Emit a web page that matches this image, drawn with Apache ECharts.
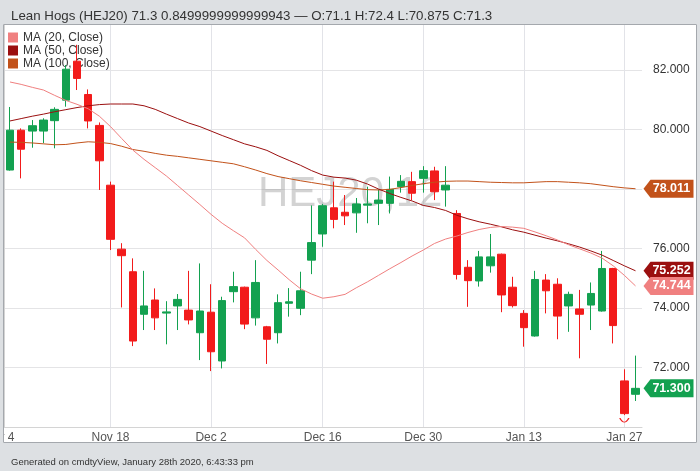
<!DOCTYPE html>
<html><head><meta charset="utf-8">
<script src="https://cdn.jsdelivr.net/npm/echarts@6/dist/echarts.min.js"></script>
<style>html,body{margin:0;padding:0;background:#fff}#c{width:700px;height:471px}</style>
</head><body><div id="c"></div>
<script>
// ---- data ----
const dates = ['Nov 4',
 'Nov 5','Nov 6','Nov 7','Nov 8','Nov 11','Nov 12','Nov 13','Nov 14','Nov 15','Nov 18',
 'Nov 19','Nov 20','Nov 21','Nov 22','Nov 25','Nov 26','Nov 27','Nov 29','Dec 2','Dec 3',
 'Dec 4','Dec 5','Dec 6','Dec 9','Dec 10','Dec 11','Dec 12','Dec 13','Dec 16','Dec 17',
 'Dec 18','Dec 19','Dec 20','Dec 23','Dec 24','Dec 26','Dec 27','Dec 30','Dec 31','Jan 2',
 'Jan 3','Jan 6','Jan 7','Jan 8','Jan 9','Jan 10','Jan 13','Jan 14','Jan 15','Jan 16',
 'Jan 17','Jan 21','Jan 22','Jan 23','Jan 24','Jan 27','Jan 28'];
const opens = [78.64,79.98,79.95,79.95,80.30,80.99,82.30,81.18,80.14,78.13,
 75.98,75.22,73.79,74.27,73.83,74.07,73.93,73.17,73.86,72.22,
 74.55,74.70,73.67,73.37,73.17,74.16,73.99,75.61,76.49,77.37,
 77.22,77.20,77.46,77.52,77.52,78.08,78.25,78.36,78.61,77.97,
 77.18,75.37,74.91,75.42,75.81,74.70,73.82,73.06,74.94,74.80,
 74.07,73.97,74.10,73.90,75.33,71.55,71.10];
const closes = [79.98,79.34,80.13,80.32,80.68,82.03,81.72,80.29,78.95,76.31,
 75.76,72.89,74.07,73.67,73.87,74.29,73.60,73.90,72.53,74.25,
 74.72,73.46,74.86,72.95,74.18,74.21,74.58,76.20,77.44,76.98,
 77.10,77.50,77.50,77.63,77.99,78.26,77.86,78.62,77.91,78.13,
 75.13,74.92,75.72,75.72,74.44,74.08,73.34,74.96,74.58,73.73,
 74.46,73.79,74.49,75.33,73.41,70.45,71.30];
const lows = [78.62,78.36,79.39,79.54,79.37,80.77,81.33,80.04,77.97,75.95,
 74.02,72.72,73.26,73.26,72.78,73.26,73.45,72.25,71.88,71.97,
 74.19,73.29,73.41,72.12,72.81,73.71,73.76,75.14,76.06,76.68,
 76.79,76.53,76.85,76.79,77.18,77.88,77.63,77.88,77.63,77.41,
 74.96,74.04,74.72,75.19,73.86,74.02,72.70,73.04,73.82,72.95,
 73.20,72.31,73.26,73.88,72.81,70.40,70.875];
const highs = [80.76,80.04,80.32,80.38,80.75,82.17,82.85,81.35,80.24,78.25,
 76.18,75.67,75.25,74.66,74.23,74.47,75.25,75.50,74.80,74.38,
 75.22,74.72,75.61,73.40,74.46,74.67,75.22,77.45,77.50,78.25,
 77.80,77.70,78.08,77.99,78.42,78.47,78.58,78.77,78.75,78.77,
 77.29,75.61,75.92,76.49,75.83,75.05,73.93,75.25,75.14,75.00,
 74.55,74.61,74.86,75.92,75.35,71.94,72.40];
const ma20 = [81.60,81.52,81.42,81.33,81.15,80.98,80.85,80.70,80.45,80.10,
 79.70,79.31,79.00,78.72,78.44,78.12,77.80,77.48,77.15,76.85,
 76.60,76.36,75.97,75.60,75.28,74.95,74.65,74.47,74.33,74.38,
 74.46,74.68,74.88,75.10,75.32,75.53,75.75,75.95,76.17,76.32,
 76.42,76.54,76.64,76.71,76.74,76.72,76.68,76.56,76.43,76.29,
 76.13,75.99,75.85,75.68,75.42,75.10,74.744];
const ma50 = [80.29,80.37,80.45,80.52,80.60,80.67,80.74,80.80,80.84,80.86,
 80.86,80.86,80.80,80.68,80.52,80.37,80.22,80.10,79.95,79.80,
 79.66,79.52,79.42,79.30,79.12,78.96,78.80,78.62,78.47,78.40,
 78.37,78.30,78.17,78.00,77.85,77.72,77.60,77.45,77.38,77.28,
 77.12,77.00,76.90,76.82,76.73,76.63,76.55,76.45,76.35,76.26,
 76.16,76.05,75.92,75.78,75.60,75.42,75.252];
const ma100 = [79.58,79.57,79.55,79.52,79.49,79.50,79.55,79.59,79.57,79.53,
 79.44,79.33,79.27,79.20,79.14,79.10,79.05,79.00,78.95,78.90,
 78.85,78.75,78.64,78.52,78.42,78.35,78.28,78.22,78.16,78.10,
 78.06,78.02,77.98,77.97,77.99,78.05,78.12,78.18,78.23,78.26,
 78.27,78.27,78.25,78.23,78.22,78.21,78.21,78.23,78.25,78.25,
 78.23,78.21,78.18,78.13,78.08,78.04,78.011];
const labelDates = ['Nov 4','Nov 18','Dec 2','Dec 16','Dec 30','Jan 13','Jan 27'];
const yMin = 70, yMax = 83.55, yStep = 2;
const expiryDate = 'Jan 27';
const titleText = 'Lean Hogs (HEJ20) 71.3 0.8499999999999943 \u2014 O:71.1 H:72.4 L:70.875 C:71.3';
const footerText = 'Generated on cmdtyView, January 28th 2020, 6:43:33 pm';
const watermark = 'HEJ20,12';

// ---- styling ----
const FONT = '"Liberation Sans", Arial, sans-serif';
const GREEN = '#13a150', RED = '#f21b1b';
const C20 = '#f08080', C50 = '#9b0f0f', C100 = '#c2521a';
const BG = '#dde0e3';
const TAG = 'path://M0,9L7,0L50,0L50,18L7,18Z';
const lastDate = dates[dates.length - 1];

const pad = arr => ['-'].concat(arr);
const candleData = pad(opens.map((o, i) => [o, closes[i], lows[i], highs[i]]));

function tagItem(value, color) {
  return {
    coord: [lastDate, value], value: value,
    symbol: TAG, symbolSize: [50, 18], symbolOffset: [33, 0], symbolKeepAspect: false,
    itemStyle: { color: color },
    label: { show: true, position: 'inside', offset: [3, 0], color: '#fff', fontWeight: 'bold',
      fontSize: 12.5, fontFamily: FONT, formatter: () => value.toFixed(3) }
  };
}
function maSeries(name, data, color) {
  return {
    name: name, type: 'line', xAxisIndex: 1, yAxisIndex: 1, data: pad(data),
    showSymbol: false, symbol: 'none', z: 3, silent: true,
    lineStyle: { width: 1, color: color }, itemStyle: { color: color },
    markPoint: { silent: true, animation: false, data: [tagItem(data[data.length - 1], color)] }
  };
}

const chart = echarts.init(document.getElementById('c'), null, { renderer: 'canvas' });
chart.setOption({
  animation: false,
  backgroundColor: '#fff',
  textStyle: { fontFamily: FONT },
  title: [
    { text: titleText, left: 6, top: 5, z: 100,
      textStyle: { fontSize: 13.3, fontWeight: 'normal', color: '#333', fontFamily: FONT } },
    { text: footerText, left: 6, top: 452, z: 100,
      textStyle: { fontSize: 9.5, fontWeight: 'normal', color: '#333', fontFamily: FONT } }
  ],
  legend: {
    orient: 'vertical', left: 8, top: 31, z: 1, padding: 0,
    itemWidth: 10, itemHeight: 10, itemGap: 0, icon: 'rect', selectedMode: false,
    textStyle: { fontSize: 12, color: '#333', lineHeight: 13, fontFamily: FONT },
    data: ['MA (20, Close)', 'MA (50, Close)', 'MA (100, Close)']
  },
  grid: [
    { left: 4, top: 24, width: 638, height: 403, outerBoundsMode: 'none', containLabel: false },
    { left: -1.17, top: 24, width: 636.67, height: 403, outerBoundsMode: 'none', containLabel: false }
  ],
  xAxis: [
    { type: 'value', gridIndex: 0, min: 0, max: 1, position: 'bottom',
      axisLine: { show: true, lineStyle: { color: '#d4d4d4' } },
      axisTick: { show: false }, axisLabel: { show: false }, splitLine: { show: false } },
    { type: 'category', gridIndex: 1, data: dates, boundaryGap: false,
      axisLine: { show: false }, axisTick: { show: false },
      axisLabel: { color: '#555', fontSize: 12, margin: 5, fontFamily: FONT,
        interval: (i, v) => labelDates.indexOf(v) >= 0 },
      splitLine: { show: true, interval: (i, v) => labelDates.indexOf(v) >= 0,
        lineStyle: { color: '#e2e3e8', width: 1 } } }
  ],
  yAxis: [
    { type: 'value', gridIndex: 0, position: 'right', min: yMin, max: yMax, interval: yStep,
      axisLine: { show: true, lineStyle: { color: '#d4d4d4' } }, axisTick: { show: false },
      axisLabel: { color: '#333', fontSize: 12, margin: 11, fontFamily: FONT,
        showMinLabel: false, showMaxLabel: false, formatter: v => v.toFixed(3) },
      splitLine: { show: true, lineStyle: { color: '#e4e4e6', width: 1 } } },
    { type: 'value', gridIndex: 1, min: yMin, max: yMax, show: false }
  ],
  graphic: [
    { type: 'text', z: 1, silent: true, left: 258, top: 173,
      style: { text: watermark, fill: 'rgba(150,150,150,0.42)', font: '42px ' + FONT } },
    { type: 'rect', z: 50, silent: true, shape: { x: 0, y: 0, width: 700, height: 24 }, style: { fill: BG } },
    { type: 'rect', z: 50, silent: true, shape: { x: 0, y: 443, width: 700, height: 28 }, style: { fill: BG } },
    { type: 'rect', z: 50, silent: true, shape: { x: 0, y: 0, width: 3, height: 471 }, style: { fill: BG } },
    { type: 'rect', z: 50, silent: true, shape: { x: 697, y: 0, width: 3, height: 471 }, style: { fill: BG } },
    { type: 'rect', z: 60, silent: true, shape: { x: 3.5, y: 24.5, width: 693, height: 418 },
      style: { fill: 'none', stroke: '#a4a8ad', lineWidth: 1 } }
  ],
  series: [
    { name: 'HEJ20', type: 'candlestick', xAxisIndex: 1, yAxisIndex: 1, data: candleData,
      barWidth: 8, clip: false, z: 2, silent: true,
      itemStyle: { color: GREEN, color0: RED, borderColor: GREEN, borderColor0: RED, borderWidth: 1 },
      markPoint: { silent: true, animation: false, data: [
        tagItem(closes[closes.length - 1], GREEN),
        { coord: [expiryDate, lows[dates.indexOf(expiryDate) - 1]], symbol: 'path://M0,0Q5,7,10,0',
          symbolSize: [9, 4], symbolOffset: [0, 5], symbolKeepAspect: false,
          itemStyle: { color: 'rgba(0,0,0,0)', borderColor: RED, borderWidth: 1 },
          label: { show: false } }
      ] } },
    maSeries('MA (100, Close)', ma100, C100),
    maSeries('MA (50, Close)', ma50, C50),
    maSeries('MA (20, Close)', ma20, C20)
  ]
});
</script></body></html>
